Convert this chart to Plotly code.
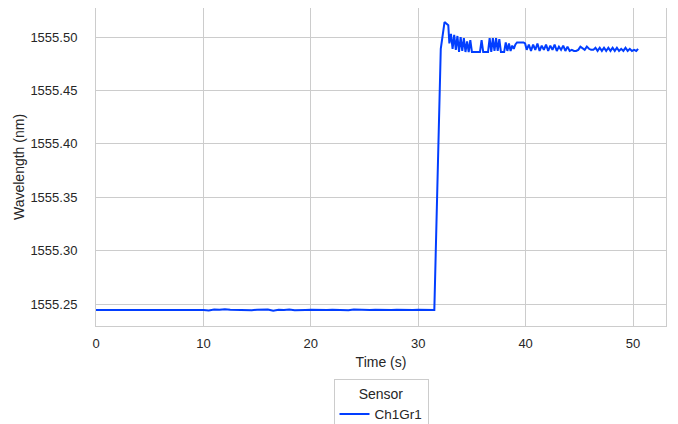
import plotly.graph_objects as go

series_name = "Ch1Gr1"
legend_title = "Sensor"

time_s = [
    0.0, 0.5, 1.0, 1.5, 2.0, 2.5, 3.0, 3.5, 4.0, 4.5,
    5.0, 5.5, 6.0, 6.5, 7.0, 7.5, 8.0, 8.5, 9.0, 9.5,
    10.0, 10.5, 11.0, 11.5, 12.0, 12.5, 13.0, 13.5, 14.0, 14.5,
    15.0, 15.5, 16.0, 16.5, 17.0, 17.5, 18.0, 18.5, 19.0, 19.5,
    20.0, 20.5, 21.0, 21.5, 22.0, 22.5, 23.0, 23.5, 24.0, 24.5,
    25.0, 25.5, 26.0, 26.5, 27.0, 27.5, 28.0, 28.5, 29.0, 29.5,
    30.0, 30.5, 31.0, 31.5,
    32.1, 32.45, 32.8,
    32.9, 33.05, 33.2, 33.35, 33.5, 33.65, 33.8, 33.95, 34.1, 34.25,
    34.4, 34.55, 34.7, 34.85, 35.0, 35.15, 35.3, 35.45, 35.6, 35.75,
    35.9, 36.05, 36.2, 36.35, 36.5, 36.65, 36.8, 36.95, 37.1, 37.25,
    37.4, 37.55, 37.7, 37.85, 38.0, 38.15, 38.3, 38.45, 38.6, 38.75,
    38.9, 39.05, 39.2, 39.35, 39.5, 39.65, 39.8, 39.95, 40.1,
    40.3, 40.5, 40.7, 40.9, 41.1, 41.3, 41.5, 41.7, 41.9, 42.1,
    42.3, 42.5, 42.7, 42.9, 43.1, 43.3, 43.5, 43.7, 43.9, 44.1,
    44.3, 44.5, 44.7, 44.9, 45.1, 45.3, 45.5, 45.7, 45.9, 46.1,
    46.3, 46.5, 46.7, 46.9, 47.1, 47.3, 47.5, 47.7, 47.9, 48.1,
    48.3, 48.5, 48.7, 48.9, 49.1, 49.3, 49.5, 49.7, 49.9, 50.1,
    50.3, 50.47,
]

wavelength_nm = [
    1555.2444, 1555.2444, 1555.2444, 1555.2444, 1555.2444, 1555.2444, 1555.2444, 1555.2444, 1555.2446, 1555.2450,
    1555.2444, 1555.2444, 1555.2446, 1555.2450, 1555.2447, 1555.2450, 1555.2444, 1555.2444, 1555.2444, 1555.2444,
    1555.2444, 1555.2440, 1555.2448, 1555.2446, 1555.2451, 1555.2447, 1555.2444, 1555.2448, 1555.2444, 1555.2442,
    1555.2446, 1555.2444, 1555.2448, 1555.2436, 1555.2446, 1555.2444, 1555.2448, 1555.2442, 1555.2446, 1555.2444,
    1555.2446, 1555.2444, 1555.2448, 1555.2444, 1555.2446, 1555.2444, 1555.2446, 1555.2442, 1555.2448, 1555.2444,
    1555.2446, 1555.2443, 1555.2446, 1555.2443, 1555.2447, 1555.2443, 1555.2446, 1555.2444, 1555.2447, 1555.2443,
    1555.2446, 1555.2444, 1555.2444, 1555.2445,
    1555.489, 1555.514, 1555.511,
    1555.494, 1555.503, 1555.489, 1555.502, 1555.488, 1555.501, 1555.486, 1555.500, 1555.487, 1555.499,
    1555.486, 1555.496, 1555.486, 1555.497, 1555.486, 1555.486, 1555.486, 1555.486, 1555.486, 1555.486,
    1555.497, 1555.486, 1555.486, 1555.486, 1555.486, 1555.499, 1555.486, 1555.499, 1555.487, 1555.499,
    1555.487, 1555.498, 1555.486, 1555.486, 1555.486, 1555.495, 1555.487, 1555.494, 1555.487, 1555.492,
    1555.489, 1555.493, 1555.495, 1555.495, 1555.495, 1555.495, 1555.495, 1555.494, 1555.488,
    1555.493, 1555.487, 1555.493, 1555.488, 1555.494, 1555.487, 1555.492, 1555.488, 1555.493, 1555.487,
    1555.492, 1555.488, 1555.493, 1555.487, 1555.491, 1555.488, 1555.492, 1555.487, 1555.491, 1555.487,
    1555.488, 1555.487, 1555.487, 1555.488, 1555.491, 1555.489, 1555.488, 1555.491, 1555.489, 1555.488,
    1555.488, 1555.490, 1555.487, 1555.490, 1555.487, 1555.490, 1555.487, 1555.490, 1555.487, 1555.490,
    1555.487, 1555.490, 1555.487, 1555.489, 1555.487, 1555.490, 1555.487, 1555.489, 1555.487, 1555.488,
    1555.487, 1555.489,
]

x_ticks = [0, 10, 20, 30, 40, 50]
y_ticks = [1555.25, 1555.30, 1555.35, 1555.40, 1555.45, 1555.50]
y_tick_text = ["1555.25", "1555.30", "1555.35", "1555.40", "1555.45", "1555.50"]

grid = "#cccccc"
text_col = "#262626"
font_family = "Liberation Sans, Arial, sans-serif"

fig = go.Figure()
fig.add_trace(go.Scatter(
    x=time_s, y=wavelength_nm, mode="lines", name=series_name,
    line=dict(color="#023eff", width=2),
))

fig.update_layout(
    width=678, height=424,
    margin=dict(l=88, r=20, t=0, b=106, autoexpand=False),
    paper_bgcolor="white", plot_bgcolor="white",
    font=dict(family=font_family, size=13, color=text_col),
    showlegend=True,
    legend=dict(
        orientation="h", x=0.5, xanchor="center", y=-0.168, yanchor="top",
        title=dict(text=legend_title, side="top center", font=dict(size=14)),
        bordercolor=grid, borderwidth=1, bgcolor="white",
        font=dict(size=13.5),
    ),
)
fig.update_xaxes(
    range=[0, 53.07], tickvals=x_ticks,
    showgrid=True, gridcolor=grid, gridwidth=1,
    showline=True, linecolor=grid, linewidth=1, mirror=True,
    ticks="", ticklabelstandoff=5, zeroline=False, automargin=False,
    title=dict(text="Time (s)", standoff=7, font=dict(size=14)),
)
fig.update_yaxes(
    range=[1555.2294, 1555.5272], tickvals=y_ticks, ticktext=y_tick_text,
    showgrid=True, gridcolor=grid, gridwidth=1,
    showline=True, linecolor=grid, linewidth=1, mirror=True,
    ticks="", ticklabelstandoff=15, zeroline=False, automargin=False,
    title=dict(text="Wavelength (nm)", standoff=2, font=dict(size=14)),
)

fig.write_html("out.html")
